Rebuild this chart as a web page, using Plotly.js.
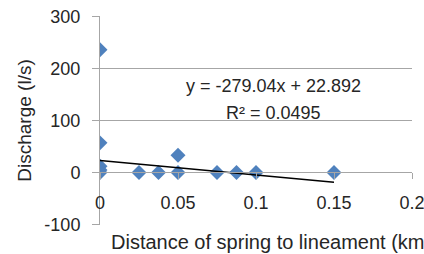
<!DOCTYPE html>
<html>
<head>
<meta charset="utf-8">
<script src="https://cdn.plot.ly/plotly-3.0.1.min.js"></script>
<style>html,body{margin:0;padding:0;background:#fff;}#chart{width:424px;height:254px;}</style>
</head>
<body>
<div id="chart"></div>
<script>
// Distance of spring to lineament (km)
var distanceKm = [0, 0, 0, 0, 0, 0.025, 0.0375, 0.05, 0.05, 0.075, 0.0875, 0.1, 0.15];
// Discharge (l/s)
var dischargeLs = [236, 57, 12, 5, 0, 0, 0, 0, 33, 0, 0, 0, 0];
// Linear trendline as printed on the chart
var trendSlope = -279.04;
var trendIntercept = 22.892;
var trendX = [0, 0.15];
var trendY = trendX.map(function (x) { return trendSlope * x + trendIntercept; });
var xTickVals = [0, 0.05, 0.1, 0.15, 0.2];
var xTickText = ['0', '0.05', '0.1', '0.15', '0.2'];
var yTickVals = [-100, 0, 100, 200, 300];
var yTickText = ['-100', '0', '100', '200', '300'];
var eqLine1 = 'y = -279.04x + 22.892';
var eqLine2 = 'R² = 0.0495';

var font = 'Liberation Sans, Arial, sans-serif';
var txt = '#262626';
var grid = '#a6a6a6';

var data = [
  {
    x: distanceKm, y: dischargeLs, type: 'scatter', mode: 'markers',
    marker: {symbol: 'diamond', size: 11.5, color: '#4F81BD', line: {width: 0}},
    showlegend: false, hoverinfo: 'x+y'
  },
  {
    x: trendX, y: trendY, type: 'scatter', mode: 'lines',
    line: {color: '#000000', width: 1.5},
    showlegend: false, hoverinfo: 'skip'
  }
];

var layout = {
  width: 424, height: 254,
  margin: {l: 100, r: 12, t: 16, b: 29, pad: 0},
  paper_bgcolor: '#ffffff', plot_bgcolor: '#ffffff',
  font: {family: font, size: 18, color: txt},
  showlegend: false,
  xaxis: {
    range: [0, 0.2], tickvals: xTickVals, ticktext: xTickText,
    anchor: 'free', position: 0.2512,
    showline: true, linecolor: grid, linewidth: 1,
    ticks: 'outside', ticklen: 6, tickcolor: grid, tickwidth: 1,
    ticklabelstandoff: 8, ticklabeloverflow: 'allow',
    showgrid: false, zeroline: false,
    tickfont: {family: font, size: 18, color: txt}
  },
  yaxis: {
    range: [-101, 301], tickvals: yTickVals, ticktext: yTickText,
    showline: true, linecolor: grid, linewidth: 1,
    ticks: 'outside', ticklen: 7, tickcolor: grid, tickwidth: 1,
    ticklabelstandoff: 8, ticklabeloverflow: 'allow',
    showgrid: true, gridcolor: grid, gridwidth: 1, zeroline: false,
    tickfont: {family: font, size: 18, color: txt},
    title: {text: 'Discharge (l/s)', font: {family: font, size: 19, color: txt}, standoff: 7}
  },
  annotations: [
    {x: 0.1109, y: 166, xref: 'x', yref: 'y', text: eqLine1, showarrow: false,
     font: {family: font, size: 18, color: txt}, xanchor: 'center', yanchor: 'middle'},
    {x: 0.1109, y: 114, xref: 'x', yref: 'y', text: eqLine2, showarrow: false,
     font: {family: font, size: 18, color: txt}, xanchor: 'center', yanchor: 'middle'},
    {x: (109 - 100) / 312, y: -(242 - 225) / 209, xref: 'paper', yref: 'paper',
     text: 'Distance of spring to lineament (km)', showarrow: false,
     font: {family: font, size: 20, color: txt}, xanchor: 'left', yanchor: 'middle'}
  ]
};

Plotly.newPlot('chart', data, layout, {staticPlot: true, displayModeBar: false});
</script>
</body>
</html>
